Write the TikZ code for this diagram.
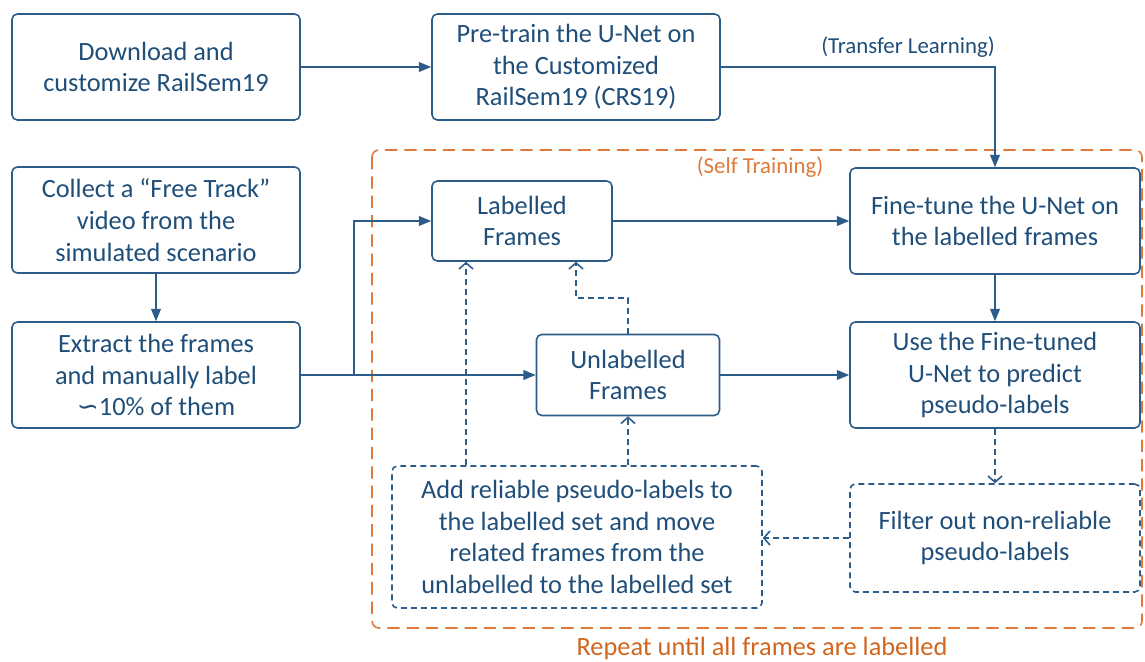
\documentclass[tikz,border=0pt]{standalone}
\usepackage{fontspec}
\setmainfont{Carlito}
\newfontfamily\symfont{DejaVu Sans}
\usetikzlibrary{arrows.meta}
\definecolor{lineblue}{HTML}{2C5C8A}
\definecolor{textblue}{HTML}{1F4E79}
\definecolor{selforange}{HTML}{E07A3A}
\definecolor{repeatorange}{HTML}{D0661E}
\tikzset{
    stepbox/.style={draw=lineblue, line width=0.9pt, rounded corners=3pt, align=center, inner sep=0pt,
        text=textblue, font=\fontsize{15}{18}\selectfont},
    softbox/.style={stepbox, dash pattern=on 3.4pt off 2.3pt},
    boxsize/.style 2 args={minimum width=#1*0.02cm, minimum height=#2*0.02cm},
    flow/.style={draw=lineblue, line width=0.9pt, -{Triangle[length=7pt,width=5.5pt]}},
    loopflow/.style={draw=lineblue, line width=0.9pt, dash pattern=on 3.4pt off 2.3pt, -{Straight Barb[length=3.5pt,width=8pt]}}
}
\begin{document}
\begin{tikzpicture}[x=0.02cm, y=-0.02cm]
        \useasboundingbox (0,0) rectangle (1145,662);

        \draw[selforange, line width=0.9pt, dash pattern=on 7pt off 4pt, rounded corners=4pt] (372,150) rectangle (1142,628);
        \node[text=selforange, font=\fontsize{13}{15}\selectfont] (selflbl) at (760,167) {(Self Training)};
        \node[text=repeatorange, font=\fontsize{15}{17}\selectfont] (repeatlbl) at (762,648) {Repeat until all frames are labelled};

        \node[stepbox, boxsize={288}{106}] (download) at (156,67) {Download and\\customize RailSem19};
        \node[stepbox, boxsize={288}{106}] (pretrain) at (576,67) {Pre-train the U-Net on\\the Customized\\RailSem19 (CRS19)};
        \node[stepbox, boxsize={288}{106}] (collect) at (156,220) {Collect a “Free Track”\\video from the\\simulated scenario};
        \node[stepbox, boxsize={288}{106}] (extract) at (156,375) {Extract the frames\\and manually label\\{\symfont ∽}10\% of them};

        \node[stepbox, boxsize={180}{80}] (labelled) at (522,221) {Labelled\\Frames};
        \node[stepbox, boxsize={183}{81}] (unlabelled) at (628,375) {Unlabelled\\Frames};

        \node[stepbox, boxsize={290}{106}] (finetune) at (995,221) {Fine-tune the U-Net on\\the labelled frames};
        \node[stepbox, boxsize={290}{106}] (predict) at (995,375) {Use the Fine-tuned\\U-Net to predict\\pseudo-labels};
        \node[softbox, boxsize={290}{108}] (filter) at (995,538) {Filter out non-reliable\\pseudo-labels};
        \node[softbox, boxsize={370}{142}] (addset) at (577,537) {Add reliable pseudo-labels to\\the labelled set and move\\related frames from the\\unlabelled to the labelled set};

        \node[text=textblue, font=\fontsize{13}{15}\selectfont] (transfer) at (908,47) {(Transfer Learning)};

        \coordinate (split) at (354,375);
        \coordinate (toLab) at (466,0);
        \coordinate (back) at (576,298);

        \draw[flow] (download) -- (pretrain);
        \draw[flow] (pretrain.east) -| (finetune.north);
        \draw[flow] (collect) -- (extract);
        \draw[flow] (extract.east) -- (unlabelled.west);
        \draw[flow] (split) |- (labelled.west);
        \draw[flow] (labelled.east) -- (labelled.east -| finetune.west);
        \draw[flow] (finetune) -- (predict);
        \draw[flow] (unlabelled.east) -- (unlabelled.east -| predict.west);

        \draw[loopflow] (predict) -- (filter);
        \draw[loopflow] (filter.west) -- (filter.west -| addset.east);
        \draw[loopflow] (addset.north -| toLab) -- (labelled.south -| toLab);
        \draw[loopflow] (addset.north -| unlabelled) -- (unlabelled.south);
        \draw[loopflow] (unlabelled.north) |- (back) -- (back |- labelled.south);
\end{tikzpicture}
\end{document}
